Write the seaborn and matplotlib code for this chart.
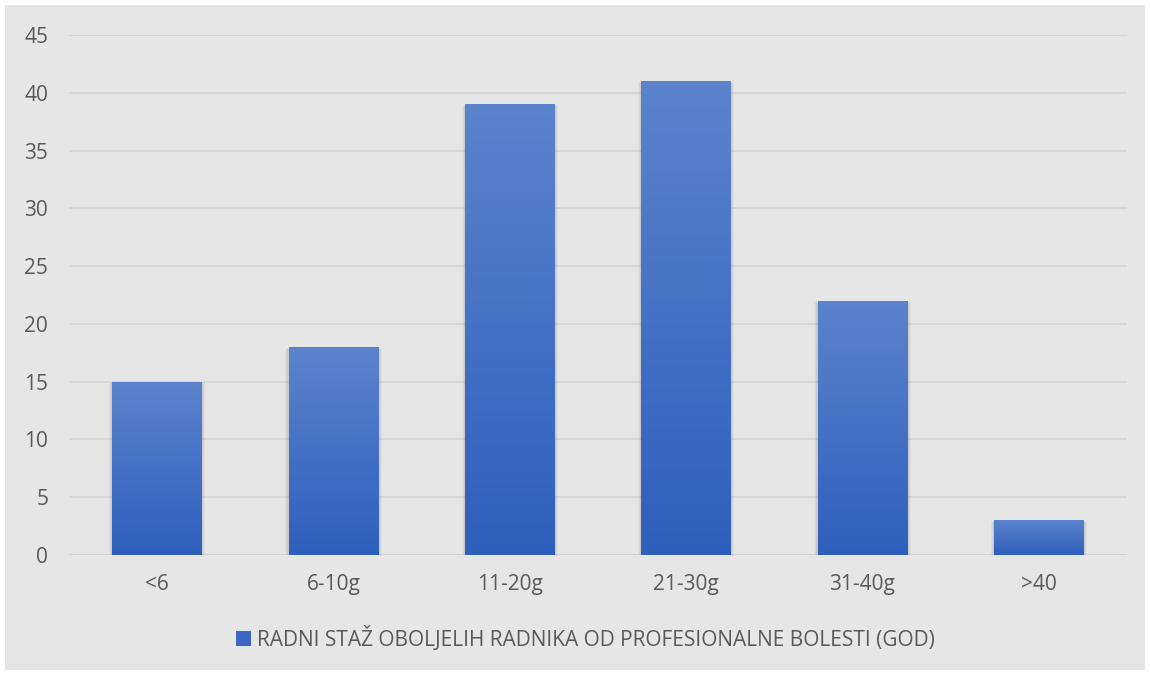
import numpy as np
import pandas as pd
import matplotlib.pyplot as plt
import matplotlib.colors as mcolors
from matplotlib.patches import Rectangle
import seaborn as sns

# Data
categories = ['<6', '6-10g', '11-20g', '21-30g', '31-40g', '>40']
values = [15, 18, 39, 41, 22, 3]
series_name = 'RADNI STAŽ OBOLJELIH RADNIKA OD PROFESIONALNE BOLESTI (GOD)'

df = pd.DataFrame({'staz': categories, 'broj': values})

sns.set_theme(style='whitegrid')
plt.rcParams['font.family'] = ['Open Sans', 'DejaVu Sans']

bg = '#e6e6e6'
txt = '#595959'
top_col = '#5b84cd'
bot_col = '#2f5fbd'

fig = plt.figure(figsize=(11.5, 6.75), dpi=100, facecolor='white')
# gray panel with a thin white margin
fig.patches.append(Rectangle((5 / 1150, 5 / 675), 1140 / 1150, 665 / 675,
                             transform=fig.transFigure, facecolor=bg,
                             edgecolor='none', zorder=-10))
ax = fig.add_axes([69 / 1150, 1 - 555 / 675, (1127 - 69) / 1150, (555 - 35) / 675])
ax.set_facecolor('none')

sns.barplot(data=df, x='staz', y='broj', color=bot_col, width=0.51, ax=ax,
            saturation=1, linewidth=0, zorder=3)

ax.set_ylim(0, 45)
ax.set_yticks(range(0, 46, 5))
ax.grid(axis='y', color='#d7d7d7', linewidth=1.5)
ax.grid(axis='x', visible=False)
for s in ax.spines.values():
    s.set_visible(False)
ax.axhline(0, color='#d2d2d2', linewidth=1.8, zorder=2)
ax.tick_params(axis='both', length=0, labelsize=15, colors=txt)
ax.tick_params(axis='y', pad=15)
ax.tick_params(axis='x', pad=14)
ax.set_xlabel('')
ax.set_ylabel('')

# vertical gradient on each bar, plus a soft shadow
cmap = mcolors.LinearSegmentedColormap.from_list('g', [bot_col, top_col])
grad = np.linspace(0, 1, 256).reshape(-1, 1)
for p in list(ax.patches):
    x0, y0 = p.get_x(), p.get_y()
    w, h = p.get_width(), p.get_height()
    for k, a in enumerate([0.05, 0.04, 0.03]):
        d = 0.006 * (k + 1)
        ax.add_patch(Rectangle((x0 - d, y0 - 0.15 * (k + 1)), w + 2 * d, h + 0.1 * (k + 1),
                               facecolor='black', alpha=a, edgecolor='none', zorder=2.5))
    im = ax.imshow(grad, cmap=cmap, origin='lower', aspect='auto',
                   extent=(x0, x0 + w, y0, y0 + h), zorder=3.5)
    im.set_clip_path(p)
ax.set_xlim(-0.5, len(categories) - 0.5)
ax.set_ylim(0, 45)

# legend under the plot
handle = Rectangle((0, 0), 1, 1, facecolor='#3a67c4', edgecolor='none')
fig.legend([handle], [series_name], loc='center', bbox_to_anchor=(0.509, 1 - 638 / 675),
           frameon=False, fontsize=15, labelcolor=txt, handlelength=0.7,
           handleheight=0.7, handletextpad=0.3)

fig.savefig('out.png', dpi=100, facecolor='white')
